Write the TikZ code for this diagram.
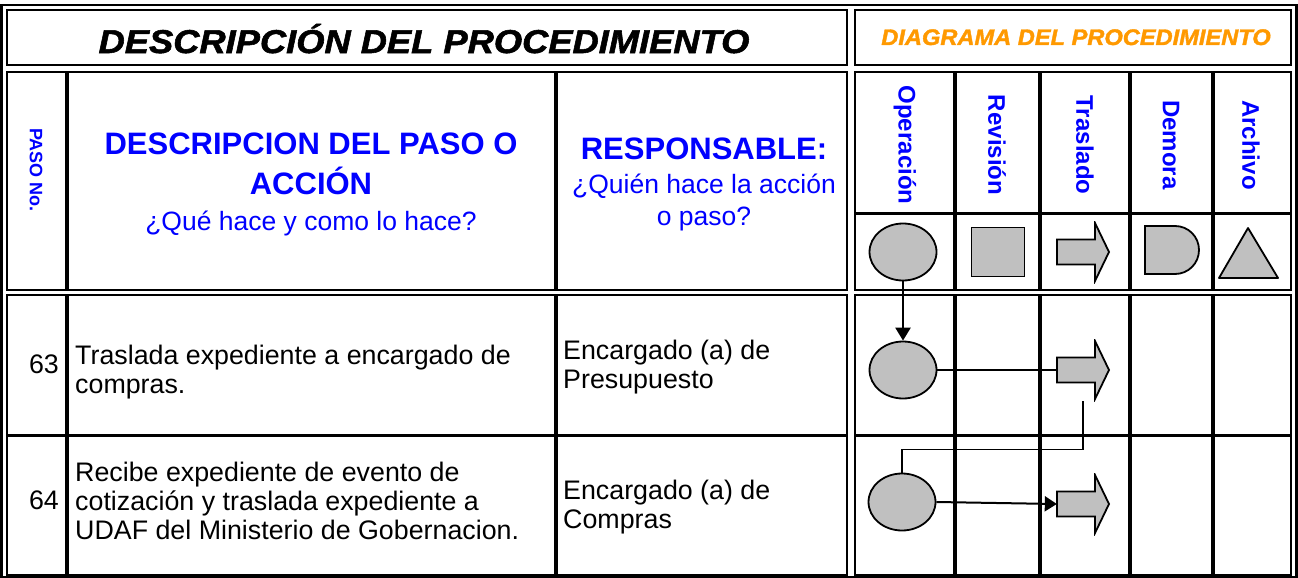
\documentclass[tikz,border=0pt]{standalone}
\usepackage{fontspec}
\setmainfont{Liberation Sans}
\newfontfamily\heavyfont{Liberation Sans}[FakeBold=1.6]
\usepackage{tikz}
\usetikzlibrary{calc,positioning,arrows.meta,shapes.geometric}
\definecolor{hdrblue}{RGB}{0,0,255}
\definecolor{hdrorange}{RGB}{255,153,0}
\definecolor{symgray}{RGB}{192,192,192}

\begin{document}
\begin{tikzpicture}[x=1pt,y=-1pt]

	\tikzstyle{frame} = [draw, line width=2.6pt]
	\tikzstyle{colline} = [draw, line width=4.5pt]
	\tikzstyle{rowline} = [draw, line width=3pt]
	\tikzstyle{sym} = [draw, fill=symgray, line width=1.8pt]
	\tikzstyle{opsym} = [ellipse, sym, minimum width=67pt, minimum height=57pt, inner sep=0pt]
	\tikzstyle{trasl} = [rectangle, minimum width=56pt, minimum height=62pt, inner sep=0pt,
		path picture={\draw[sym, line join=miter] ([shift={(-26pt,12.5pt)}]path picture bounding box.center)
			-- ++(38pt,0pt) -- ++(0pt,16.5pt) -- ++(14pt,-29pt) -- ++(-14pt,-29pt)
			-- ++(0pt,16.5pt) -- ++(-38pt,0pt) -- cycle;}]
	\tikzstyle{bluehead} = [text=hdrblue, font=\bfseries\fontsize{31}{40}\selectfont, align=center, inner sep=0pt]
	\tikzstyle{bluesub} = [text=hdrblue, font=\fontsize{26.5}{32}\selectfont, align=center, inner sep=0pt]
	\tikzstyle{vlabel} = [text=hdrblue, font=\bfseries\fontsize{24}{28}\selectfont, rotate=-90, inner sep=0pt]
	\tikzstyle{bodytext} = [font=\fontsize{26.8}{29}\selectfont, align=left, anchor=west, inner sep=0pt]
	\tikzstyle{flow} = [draw, line width=2.5pt, -{Triangle[length=13pt,width=15pt]}]
	\tikzstyle{link} = [draw, line width=1.3pt]

	\useasboundingbox (0,0) rectangle (1298,578);

	% Table frame
	\draw[frame] (1.5,5) rectangle (1296.5,577);
	\foreach \ya/\yb in {10/65,72/290,295/575} {
		\draw[frame] (7,\ya) rectangle (847,\yb);
		\draw[frame] (855,\ya) rectangle (1291,\yb);
	}
	\foreach \x in {67,556,955,1040,1130,1213}
		\draw[colline] (\x,72) -- (\x,290) (\x,295) -- (\x,575);
	\draw[rowline] (855,213) -- (1291,213);
	\draw[rowline] (7,435) -- (847,435) (855,435) -- (1291,435);

	% Titles
	\node [anchor=base, font=\heavyfont\bfseries\itshape\fontsize{33}{38}\selectfont] at (424,53) (title_desc)
		{\scalebox{1.1}[1]{DESCRIPCIÓN DEL PROCEDIMIENTO}};
	\node [anchor=base, text=hdrorange, font=\heavyfont\bfseries\itshape\fontsize{22.5}{27}\selectfont] at (1076,45) (title_diag)
		{\scalebox{1.05}[1]{DIAGRAMA DEL PROCEDIMIENTO}};

	% Column heads
	\node [vlabel, font=\bfseries\fontsize{18}{22}\selectfont] at (36,170) (paso_no) {PASO No.};
	\node [bluehead] at (311,164) (desc_head) {DESCRIPCION DEL PASO O\\ACCIÓN};
	\node [bluesub, anchor=base] at (311,230) (desc_sub) {¿Qué hace y como lo hace?};
	\node [bluehead, anchor=base] at (704,159) (resp_head) {RESPONSABLE:};
	\node [bluesub] at (704,202) (resp_sub) {¿Quién hace la acción\\o paso?};
	\foreach \lbl/\cx in {Operación/905, Revisión/997, Traslado/1085, Demora/1171, Archivo/1251}
		\node [vlabel] at (\cx,145) (label_\cx) {\lbl};

	% Legend symbols
	\node [opsym] at (903,252) (op_sym) {};
	\node [sym, rectangle, minimum width=53pt, minimum height=49pt, inner sep=0pt] at (998,252) (rev_sym) {};
	\node [trasl] at (1083,252) (tr_sym) {};
	\draw[sym] (1145,226) -- (1175,226) .. controls (1188.3,226) and (1199,236.7) .. (1199,250)
		.. controls (1199,263.3) and (1188.3,274) .. (1175,274) -- (1145,274) -- cycle;
	\draw[sym, line join=round] (1248,228) -- (1278,278) -- (1219,278) -- cycle;

	% Steps
	\node [anchor=base, font=\fontsize{26.8}{29}\selectfont] at (44,373) (num63) {63};
	\node [bodytext] at (75,372) (desc63) {Traslada expediente a encargado de\\compras.};
	\node [bodytext] at (563,367) (resp63) {Encargado (a) de\\Presupuesto};
	\node [opsym] at (903,370) (op63) {};
	\node [trasl] at (1083,370) (tr63) {};

	\node [anchor=base, font=\fontsize{26.8}{29}\selectfont] at (44,509) (num64) {64};
	\node [bodytext] at (75,501) (desc64) {Recibe expediente de evento de\\cotización y traslada expediente a\\UDAF del Ministerio de Gobernacion.};
	\node [bodytext] at (563,507) (resp64) {Encargado (a) de\\Compras};
	\node [opsym] at (902,502) (op64) {};
	\node [trasl] at (1083,504) (tr64) {};

	% Draw edges
	\path [flow] (op_sym.south) -- (op63.north);
	\path [link] (op63.east) -- ([xshift=2pt]tr63.west);
	\path [link] (tr63.south) -- ++(0,48) -| (op64.north);
	\path [flow, line width=2pt, -{Triangle[length=12pt,width=15pt]}] (op64.east) -- ([xshift=2pt]tr64.west);
\end{tikzpicture}
\end{document}
